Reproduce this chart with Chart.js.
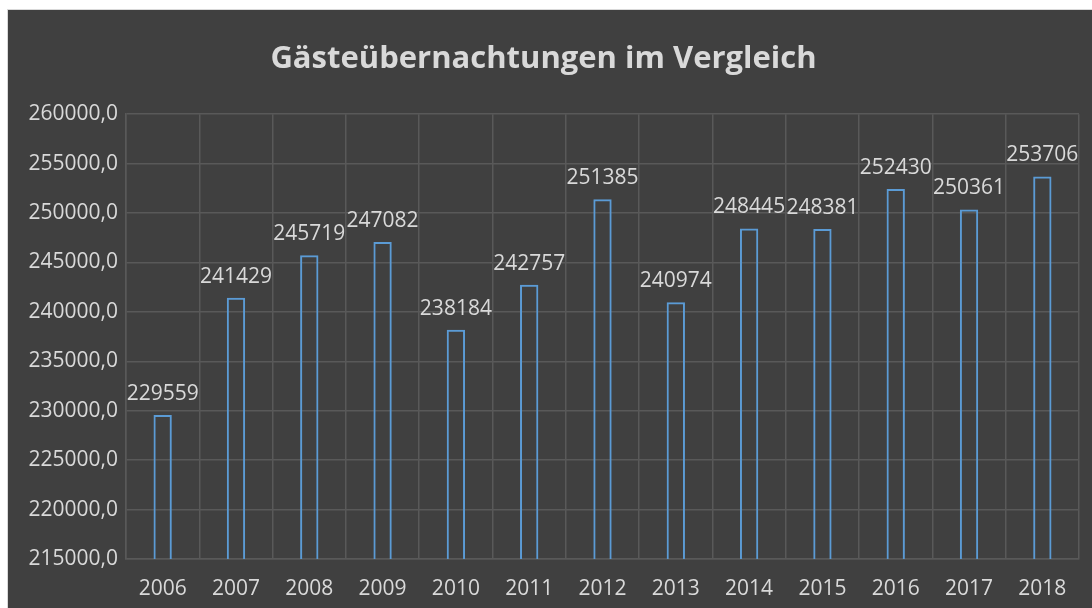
<!DOCTYPE html>
<html>
<head>
<meta charset="utf-8">
<script src="https://cdn.jsdelivr.net/npm/chart.js@4"></script>
<style>
  html, body { margin: 0; padding: 0; background: #fff; }
  #wrap { position: absolute; left: 7px; top: 9px; width: 1085px; height: 599px; background: #404040; border-left: 1px solid #d9d9d9; border-top: 1px solid #d9d9d9; box-sizing: border-box; }
</style>
</head>
<body>
<div id="wrap"><canvas id="myChart" width="1084" height="598"></canvas></div>
<script>
// =======================
// Data
// =======================
const years = ['2006', '2007', '2008', '2009', '2010', '2011', '2012', '2013', '2014', '2015', '2016', '2017', '2018'];
const overnightStays = [229559, 241429, 245719, 247082, 238184, 242757, 251385, 240974, 248445, 248381, 252430, 250361, 253706];
const yAxisMin = 215000;
const yAxisMax = 260000;
const yAxisStep = 5000;
const chartTitle = 'Gästeübernachtungen im Vergleich';

// Theme
const barBorderColor = '#5B9BD5';
const gridColor = '#595959';
const textColor = '#d9d9d9';
const fontFamily = "'Open Sans', sans-serif";

// value labels above the bars
const valueLabels = {
  id: 'valueLabels',
  afterDatasetsDraw(chart) {
    const ctx = chart.ctx;
    const meta = chart.getDatasetMeta(0);
    ctx.save();
    ctx.font = '21px ' + fontFamily;
    ctx.fillStyle = textColor;
    ctx.textAlign = 'center';
    ctx.textBaseline = 'middle';
    meta.data.forEach((bar, i) => {
      ctx.fillText(String(overnightStays[i]), bar.x, bar.y - 21);
    });
    ctx.restore();
  }
};

const ctx = document.getElementById('myChart').getContext('2d');

new Chart(ctx, {
  type: 'bar',
  data: {
    labels: years,
    datasets: [{
      data: overnightStays,
      backgroundColor: 'rgba(0,0,0,0)',
      borderColor: barBorderColor,
      borderWidth: 2,
      barPercentage: 0.25,
      categoryPercentage: 1
    }]
  },
  options: {
    responsive: false,
    animation: false,
    layout: { padding: { left: 0, right: 13, top: 0, bottom: 0 } },
    plugins: {
      legend: { display: false },
      tooltip: { enabled: false },
      title: {
        display: true,
        text: chartTitle,
        color: textColor,
        font: { family: fontFamily, size: 31, weight: 'bold' },
        padding: { top: 31, bottom: 36 }
      }
    },
    scales: {
      x: {
        grid: { color: gridColor, lineWidth: 1.5, drawTicks: false, offset: true },
        border: { color: gridColor, width: 1.5 },
        ticks: { color: textColor, font: { family: fontFamily, size: 21 }, padding: 17 },
        afterFit: s => { s.height = 49; }
      },
      y: {
        min: yAxisMin,
        max: yAxisMax,
        grid: { color: gridColor, lineWidth: 1.5, drawTicks: false },
        border: { color: gridColor, width: 1.5 },
        ticks: {
          stepSize: yAxisStep,
          color: textColor,
          font: { family: fontFamily, size: 21 },
          padding: 8,
          callback: v => v.toFixed(1).replace('.', ',')
        },
        afterFit: s => { s.width = 118; }
      }
    }
  },
  plugins: [valueLabels]
});
</script>
</body>
</html>
